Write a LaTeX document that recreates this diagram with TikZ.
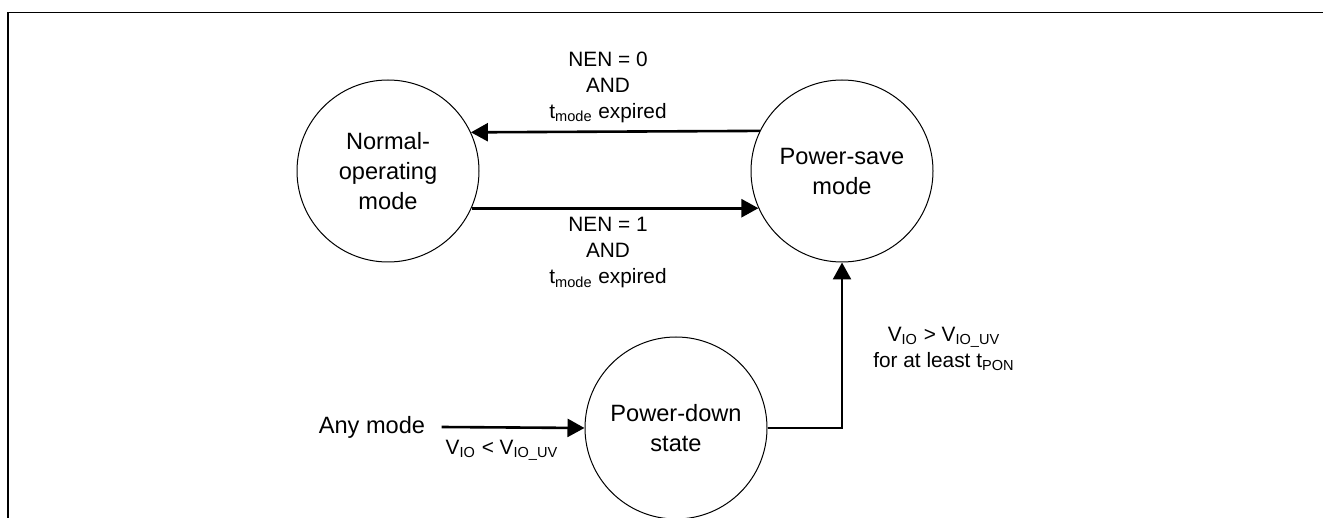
\documentclass[tikz,border=0pt]{standalone}
\usepackage{fontspec}
\setmainfont{Liberation Sans}
\usetikzlibrary{arrows.meta}

\begin{document}
\begin{tikzpicture}[x=0.5pt, y=-0.5pt,
    state/.style={draw, circle, line width=0.5pt, minimum size=91pt, inner sep=0pt,
        align=center, font=\fontsize{11.8}{15}\selectfont},
    cond/.style={align=center, font=\fontsize{10.4}{13}\selectfont},
    trans/.style={line width=1.3pt, -{Triangle[length=8.5pt, width=9pt]}}]
    \useasboundingbox (0,0) rectangle (1323,518);

    % Frame
    \draw[line width=0.75pt] (1323,12.5) -- (8,12.5) -- (8,518);

    % Define the nodes
    \node[state] (nm) at (388,171) {Normal-\\operating\\mode};
    \node[state] (ps) at (842,171) {Power-save\\mode};
    \node[state] (pd) at (676,428) {Power-down\\state};
    \node[font=\fontsize{11.8}{15}\selectfont, inner xsep=8pt] (any) at (372,427) {Any mode};

    % Draw the edges
    \draw[trans] (ps.154.6) -- (nm.25.4);
    \draw[trans] (nm.-24) -- (ps.204);
    \draw[trans] (any.east) -- (pd.west);
    \draw[trans] (pd.east) -| (ps.south);

    % Add labels
    \node[cond] (off) at (608,87) {NEN = 0\\AND\\t\textsubscript{mode} expired};
    \node[cond] (on) at (608,253) {NEN = 1\\AND\\t\textsubscript{mode} expired};
    \node[cond] (wake) at (944,349) {V\textsubscript{IO} > V\textsubscript{IO\_UV}\\for at least t\textsubscript{PON}};
    \node[cond] (drop) at (502,450) {V\textsubscript{IO} < V\textsubscript{IO\_UV}};
\end{tikzpicture}
\end{document}
